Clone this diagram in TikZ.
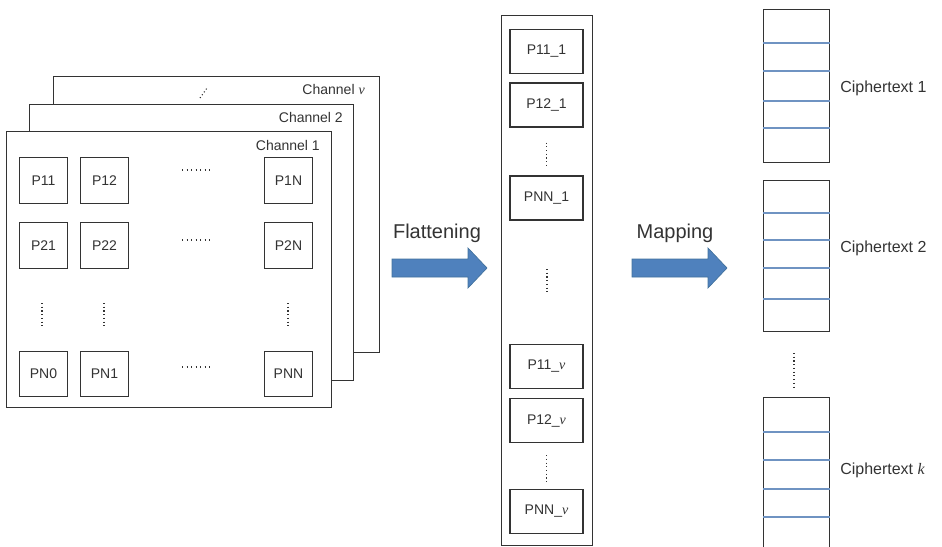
\documentclass[tikz,border=0pt]{standalone}
\usepackage{fontspec}
\setmainfont{Liberation Sans}
\newfontfamily\mathserif{Liberation Serif}
\newcommand{\vv}{{\mathserif\itshape v}}
\newcommand{\kk}{{\mathserif\itshape k}}
\definecolor{ink}{HTML}{333333}
\definecolor{arrowblue}{HTML}{4F81BD}
\definecolor{arrowedge}{HTML}{41719C}
\definecolor{slotline}{HTML}{6F93C2}
\begin{document}
\begin{tikzpicture}[x=0.75pt,y=-0.75pt,
  frame/.style={draw=ink,fill=white,line width=0.8pt,inner sep=0pt,anchor=north west},
  cell/.style={draw=ink,fill=white,line width=0.8pt,inner sep=0pt,
    minimum width=36pt,minimum height=34pt,font=\fontsize{10.5}{12}\selectfont,text=ink},
  flatcell/.style={cell,minimum width=54.75pt,minimum height=33pt},
  chlabel/.style={anchor=east,inner sep=0pt,font=\fontsize{10.5}{12}\selectfont,text=ink},
  ctlabel/.style={anchor=west,inner sep=0pt,font=\fontsize{12}{14}\selectfont,text=ink},
  oplabel/.style={inner sep=0pt,font=\fontsize{15}{18}\selectfont,text=ink},
  vdots/.style={draw=ink,line width=0.8pt,dash pattern=on 0.8pt off 2pt},
  hdots/.style={draw=ink,line width=0.8pt,dash pattern=on 0.8pt off 2.6pt},
  slot/.style={draw=slotline,line width=0.8pt},
  bigarrow/.style={fill=arrowblue,draw=arrowedge,line width=0.5pt}]
\useasboundingbox (0,0) rectangle (942,546);

% stacked channel frames, back to front
\node[frame,minimum width=244.5pt,minimum height=207pt] (chv) at (53,76) {};
\node[chlabel] (lv) at (365,89) {Channel \vv};
\draw[vdots,dash pattern=on 0.8pt off 1.8pt] (200,98) -- (207,88);
\node[frame,minimum width=243pt,minimum height=207pt] (ch2) at (29,104) {};
\node[chlabel] (l2) at (343,117) {Channel 2};
\node[frame,minimum width=243.75pt,minimum height=207pt] (ch1) at (6,131) {};
\node[chlabel] (l1) at (320,145) {Channel 1};

% pixel grid of channel 1
\node[cell] (p11) at (43.5,180.5) {P11};
\node[cell] (p12) at (104.5,180.5) {P12};
\node[cell] (p1n) at (288.5,180.5) {P1N};
\node[cell] (p21) at (43.5,245.5) {P21};
\node[cell] (p22) at (104.5,245.5) {P22};
\node[cell] (p2n) at (288.5,245.5) {P2N};
\node[cell] (pn0) at (43.5,374) {PN0};
\node[cell] (pn1) at (104.5,374) {PN1};
\node[cell] (pnn) at (288.5,374) {PNN};
\draw[hdots] (182,170) -- (210,170);
\draw[hdots] (182,240) -- (210,240);
\draw[hdots] (182,367) -- (210,367);
\foreach \x in {42,104,288} \draw[vdots] (\x,303) -- (\x,329);

% flattening arrow
\node[oplabel] (flat) at (437,233) {Flattening};
\draw[bigarrow] (392,259) -- (468,259) -- (468,248) -- (487,268) -- (468,288)
  -- (468,277) -- (392,277) -- cycle;

% flattened vector
\node[frame,minimum width=68.25pt,minimum height=397.5pt] (vec) at (501,15) {};
\node[flatcell] (a1) at (546.5,51.5) {P11\_1};
\node[flatcell] (a2) at (546.5,105) {P12\_1};
\node[flatcell] (a3) at (546.5,198) {PNN\_1};
\node[flatcell] (b1) at (546.5,366.5) {P11\_\vv};
\node[flatcell] (b2) at (546.5,420.5) {P12\_\vv};
\node[flatcell] (b3) at (546.5,511.5) {PNN\_\vv};
\draw[vdots] (a2.south) ++(0,15) -- ++(0,25);
\draw[vdots] (547,269) -- (547,295);
\draw[vdots] (b2.south) ++(0,12) -- ++(0,27);

% mapping arrow
\node[oplabel] (map) at (675,233) {Mapping};
\draw[bigarrow] (632,259) -- (708,259) -- (708,248) -- (727,268) -- (708,288)
  -- (708,277) -- (632,277) -- cycle;

% ciphertext blocks
\node[frame,minimum width=49.5pt,minimum height=114.75pt] (c1) at (763,9) {};
\foreach \y in {43,71,101,128} \draw[slot] (c1.west |- 0,\y) -- (c1.east |- 0,\y);
\node[ctlabel] (t1) at (840,88) {Ciphertext 1};

\node[frame,minimum width=49.5pt,minimum height=113.25pt] (c2) at (763,180) {};
\foreach \y in {213,240,268,299} \draw[slot] (c2.west |- 0,\y) -- (c2.east |- 0,\y);
\node[ctlabel] (t2) at (840,248) {Ciphertext 2};

\draw[vdots] (794,353) -- (794,387);

\node[frame,minimum width=49.5pt,minimum height=117pt] (ck) at (763,397) {};
\foreach \y in {432,460,489,517} \draw[slot] (ck.west |- 0,\y) -- (ck.east |- 0,\y);
\node[ctlabel] (tk) at (840,470) {Ciphertext \kk};
\end{tikzpicture}
\end{document}
